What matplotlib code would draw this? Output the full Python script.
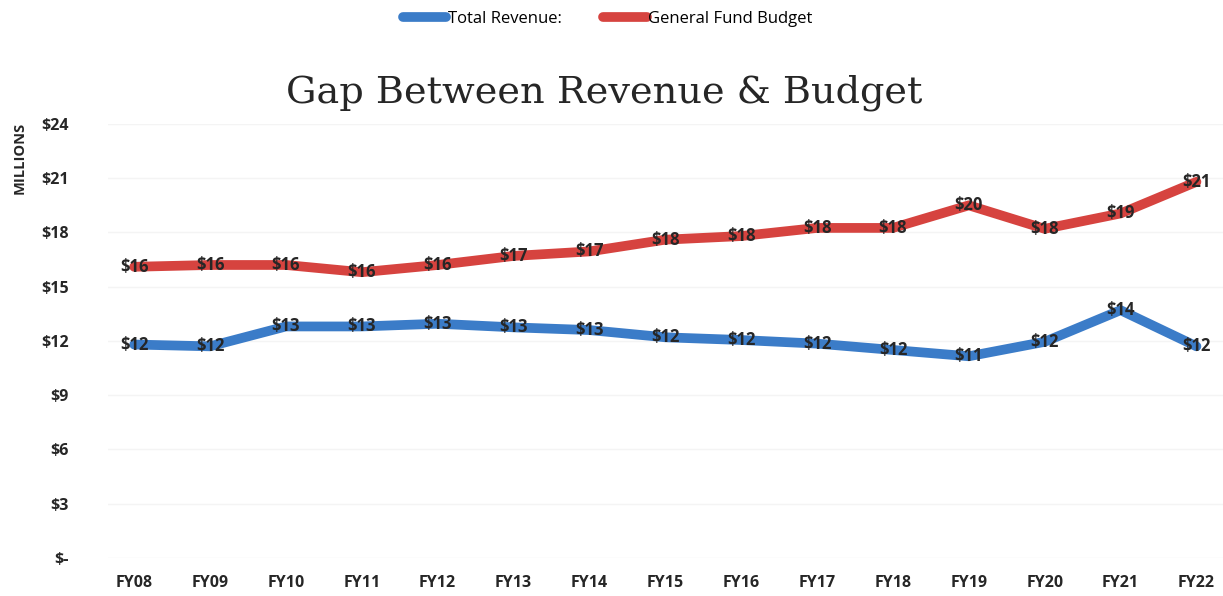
import matplotlib
matplotlib.use("Agg")
import matplotlib.pyplot as plt

# ----------DATA----------
years = ['FY08', 'FY09', 'FY10', 'FY11', 'FY12', 'FY13', 'FY14', 'FY15',
         'FY16', 'FY17', 'FY18', 'FY19', 'FY20', 'FY21', 'FY22']
revenue = [11.8, 11.7, 12.8, 12.8, 12.95, 12.75, 12.6, 12.2,
           12.05, 11.85, 11.5, 11.15, 11.95, 13.7, 11.7]
budget = [16.1, 16.2, 16.2, 15.8, 16.2, 16.7, 16.95, 17.6,
          17.8, 18.25, 18.25, 19.5, 18.2, 19.05, 20.8]
yticks = [0, 3, 6, 9, 12, 15, 18, 21, 24]
ytick_labels = ['$-', '$3', '$6', '$9', '$12', '$15', '$18', '$21', '$24']

blue = '#3B7CC8'
red = '#D6433F'
font = ['Open Sans', 'DejaVu Sans']

fig = plt.figure(figsize=(12.23, 5.96), dpi=100)
ax = fig.add_axes([0.088, 0.064, 0.912, 0.728])

x = list(range(len(years)))
l1, = ax.plot(x, revenue, color=blue, lw=7, solid_capstyle='round', label='Total Revenue:')
l2, = ax.plot(x, budget, color=red, lw=7, solid_capstyle='round', label='General Fund Budget')

for xi, v in zip(x, revenue):
    ax.text(xi, v, '$%d' % round(v), ha='center', va='center', fontsize=12,
            fontweight='bold', color='#262626', family=font)
for xi, v in zip(x, budget):
    ax.text(xi, v, '$%d' % round(v), ha='center', va='center', fontsize=12,
            fontweight='bold', color='#262626', family=font)

ax.set_xlim(-0.35, 14.35)
ax.set_ylim(0, 24)
ax.set_yticks(yticks)
ax.set_yticklabels(ytick_labels)
ax.set_xticks(x)
ax.set_xticklabels(years)
for lab in ax.get_xticklabels() + ax.get_yticklabels():
    lab.set_fontweight('bold')
    lab.set_fontsize(11.5)
    lab.set_color('#262626')
    lab.set_family(font)
ax.tick_params(length=0)
ax.tick_params(axis='x', pad=12)
ax.tick_params(axis='y', pad=28)
for lab in ax.get_yticklabels():
    lab.set_horizontalalignment('right')
ax.grid(axis='y', color='#f4f4f4', lw=1)
for s in ax.spines.values():
    s.set_visible(False)

fig.text(0.494, 0.845, 'Gap Between Revenue & Budget', ha='center', va='center',
         fontsize=27.5, family=['DejaVu Serif'], color='#262626')
fig.text(0.016, 0.735, 'MILLIONS', rotation=90, ha='center', va='center',
         fontsize=10.5, fontweight='bold', family=font, color='#262626')

fig.legend(handles=[l1, l2], loc='center', bbox_to_anchor=(0.497, 0.968), ncol=2,
           frameon=False, prop={'family': font, 'size': 12}, handlelength=2.6,
           handletextpad=0.1, columnspacing=2.5)

fig.savefig('out.png', dpi=100)
